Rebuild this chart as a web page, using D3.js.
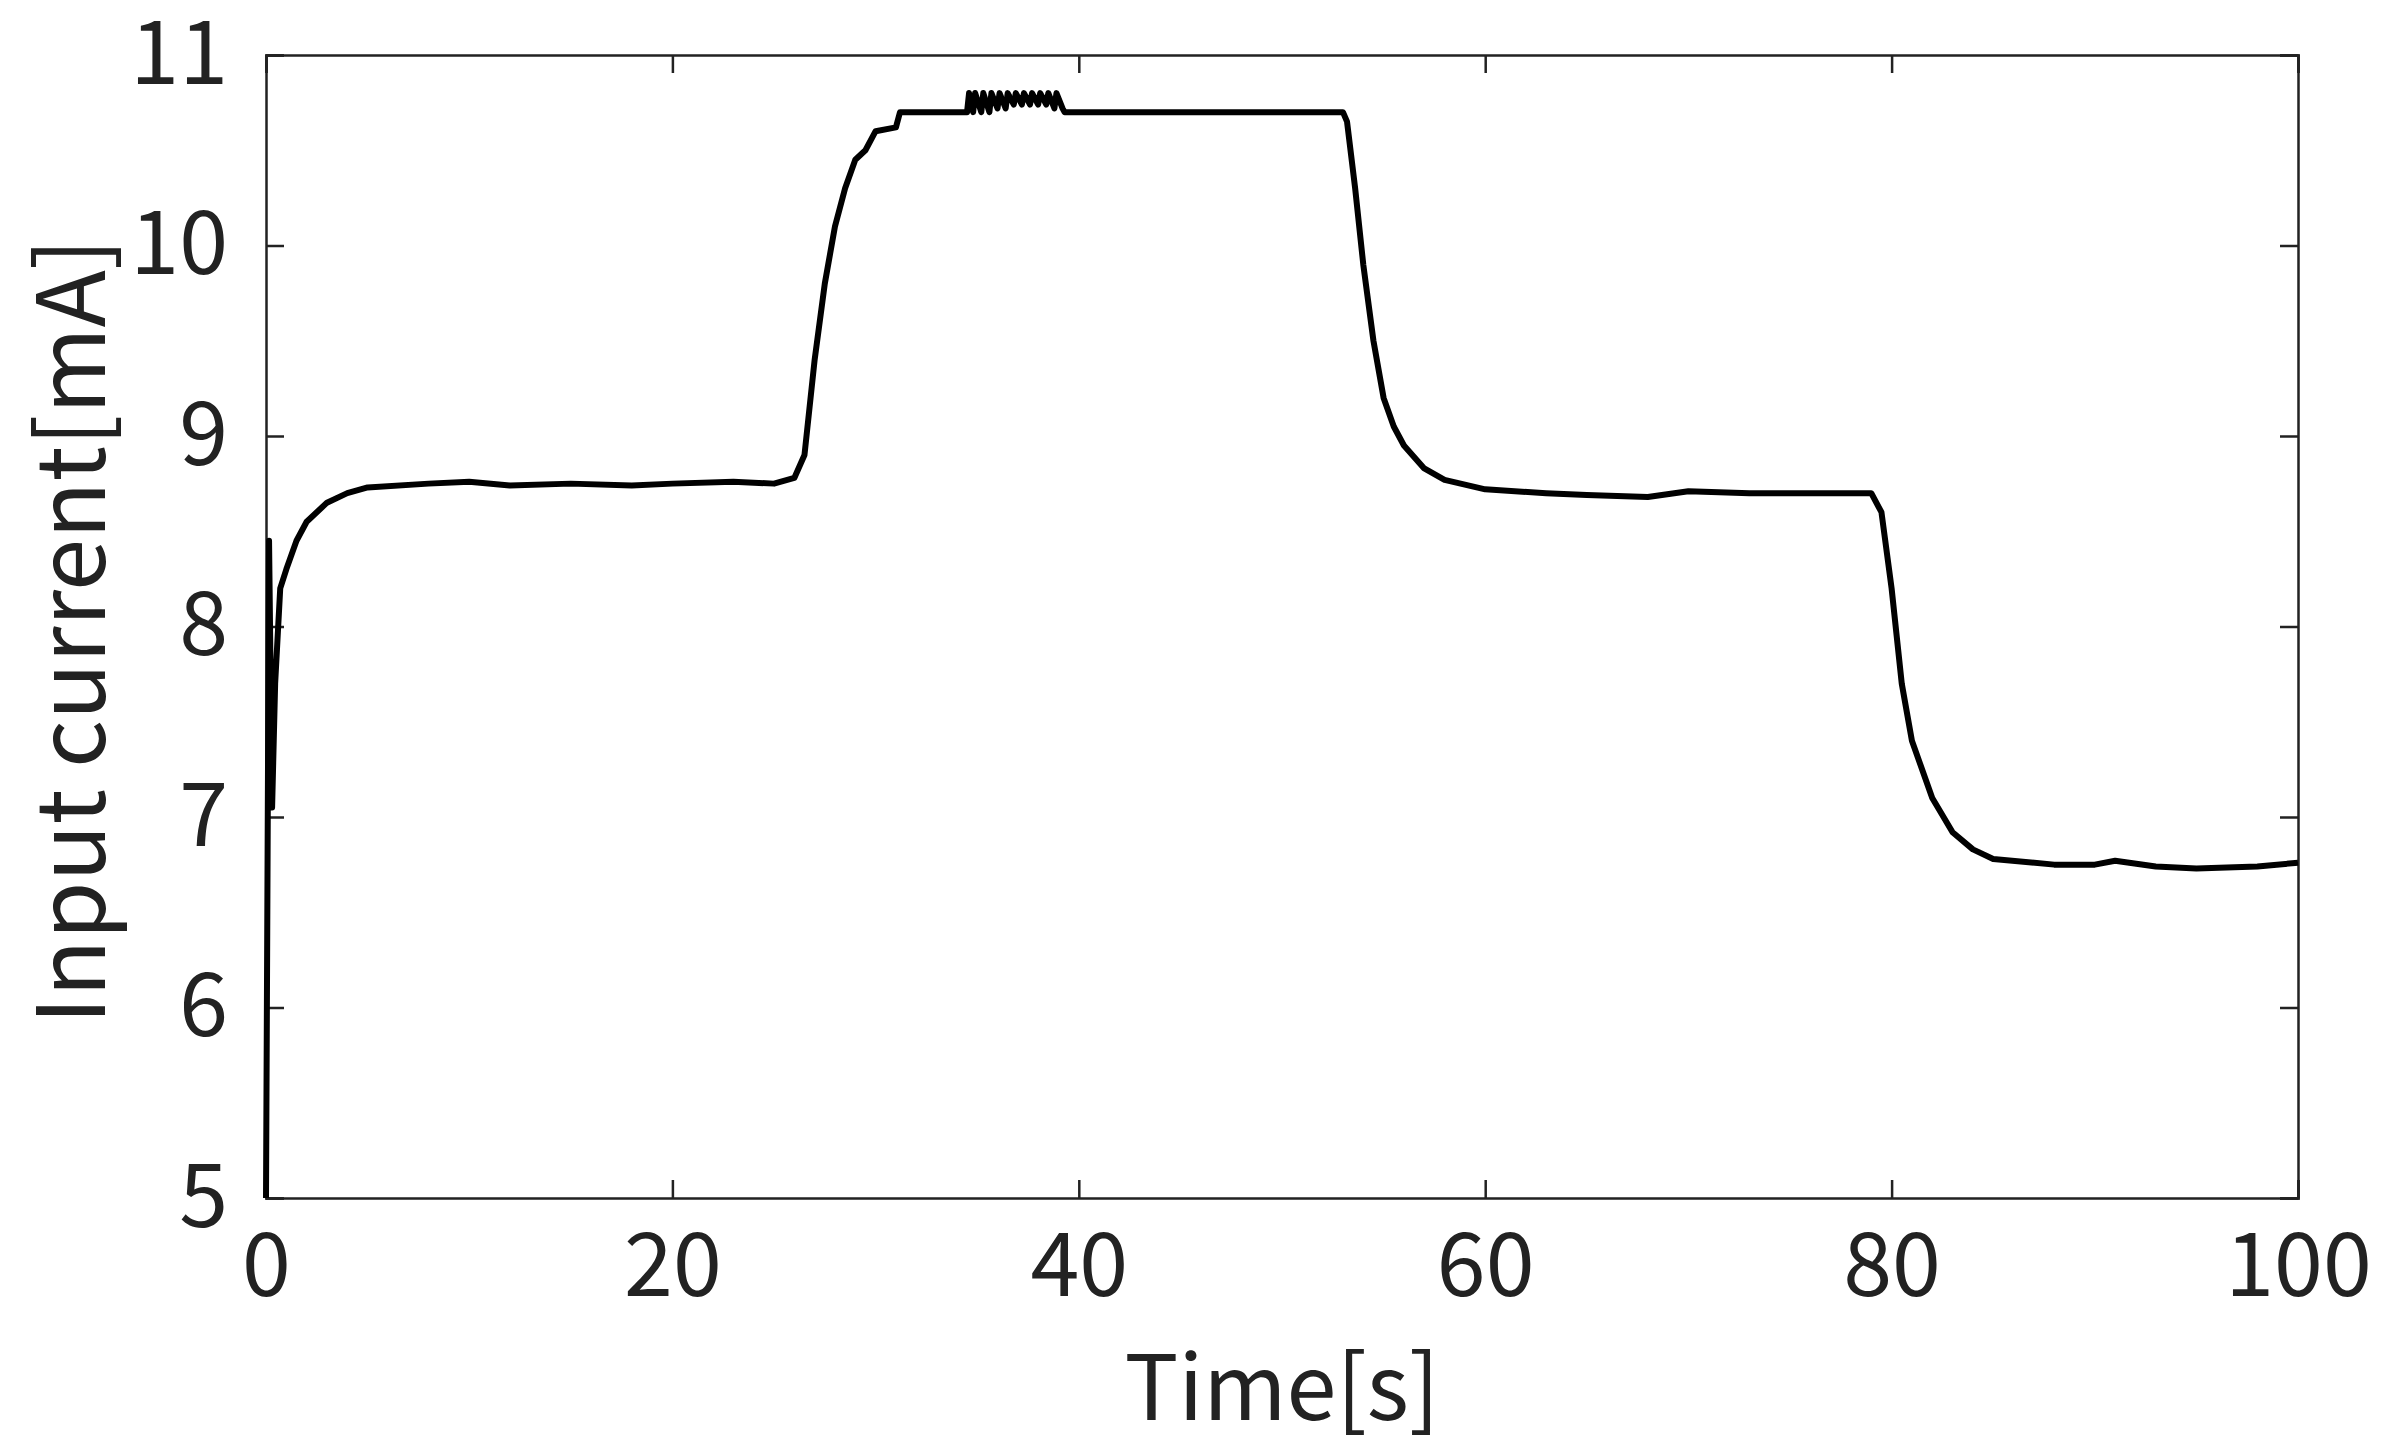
<!DOCTYPE html>
<html>
<head>
<meta charset="utf-8">
<script src="https://cdn.jsdelivr.net/npm/d3@7"></script>
<style>body{margin:0;background:#fff;}</style>
</head>
<body>
<script>
var times = [0, 0.15, 0.3, 0.45, 0.7, 1, 1.5, 2, 3, 4, 5, 8, 10, 12, 15, 18, 20, 23, 25, 26, 26.5, 27, 27.5, 28, 28.5, 29, 29.5, 30, 31, 31.2,
  34.5, 34.6, 34.8, 34.9, 35.2, 35.3, 35.6, 35.7, 36.0, 36.1, 36.4, 36.5, 36.8, 36.9, 37.2, 37.3, 37.6, 37.7, 38.0, 38.1, 38.4, 38.5, 38.8, 38.9, 39.2, 39.3,
  45, 53, 53.2, 53.6, 54, 54.5, 55, 55.5, 56, 57, 58, 60, 63, 65, 68, 70, 73, 75, 79, 79.5, 80, 80.5, 81, 82, 83, 84, 85, 88, 90, 91, 93, 95, 98, 100];
var current = [5.0, 8.45, 7.05, 7.7, 8.2, 8.3, 8.45, 8.55, 8.65, 8.7, 8.73, 8.75, 8.76, 8.74, 8.75, 8.74, 8.75, 8.76, 8.75, 8.78, 8.9, 9.4, 9.8, 10.1, 10.3, 10.45, 10.5, 10.6, 10.62, 10.7,
  10.7, 10.8, 10.7, 10.8, 10.7, 10.8, 10.7, 10.8, 10.72, 10.8, 10.72, 10.8, 10.74, 10.8, 10.74, 10.8, 10.74, 10.8, 10.74, 10.8, 10.74, 10.8, 10.72, 10.8, 10.72, 10.7,
  10.7, 10.7, 10.65, 10.3, 9.9, 9.5, 9.2, 9.05, 8.95, 8.83, 8.77, 8.72, 8.7, 8.69, 8.68, 8.71, 8.7, 8.7, 8.7, 8.6, 8.2, 7.7, 7.4, 7.1, 6.92, 6.83, 6.78, 6.75, 6.75, 6.77, 6.74, 6.73, 6.74, 6.76];
var xTicks = [0, 20, 40, 60, 80, 100];
var yTicks = [5, 6, 7, 8, 9, 10, 11];

var W = 2386, H = 1451;
var m = {left: 266, right: 2386 - 2298, top: 55, bottom: 1451 - 1198};
var font = "'Noto Sans CJK JP', 'Noto Sans', sans-serif";

var svg = d3.select("body").append("svg").attr("width", W).attr("height", H);

var x = d3.scaleLinear().domain([0, 100]).range([m.left, W - m.right]);
var y = d3.scaleLinear().domain([5, 11]).range([H - m.bottom, m.top]);

var tk = 18;
svg.append("g").attr("transform", "translate(0," + y(5) + ")")
   .call(d3.axisBottom(x).tickValues(xTicks).tickSize(-tk).tickPadding(tk + 18).tickFormat(d3.format("d")))
svg.append("g").attr("transform", "translate(0," + y(11) + ")")
   .call(d3.axisTop(x).tickValues(xTicks).tickSize(-tk).tickFormat(""));
svg.append("g").attr("transform", "translate(" + x(0) + ",0)")
   .call(d3.axisLeft(y).tickValues(yTicks).tickSize(-tk).tickPadding(tk + 20).tickFormat(d3.format("d")));
svg.append("g").attr("transform", "translate(" + x(100) + ",0)")
   .call(d3.axisRight(y).tickValues(yTicks).tickSize(-tk).tickFormat(""));

svg.selectAll(".domain").style("stroke", "#222").style("stroke-width", 2.5);
svg.selectAll(".tick line").style("stroke", "#222").style("stroke-width", 2.5);
svg.selectAll(".tick text").style("font-family", font).style("font-size", "88px").style("fill", "#222");

var pts = times.map(function(t, i) { return [t, current[i]]; });
svg.append("path")
   .datum(pts)
   .attr("d", d3.line().x(function(d) { return x(d[0]); }).y(function(d) { return y(d[1]); }))
   .style("fill", "none")
   .style("stroke", "#000")
   .style("stroke-width", 6)
   .style("stroke-linejoin", "round");

svg.append("text")
   .attr("x", (x(0) + x(100)) / 2).attr("y", 1420)
   .attr("text-anchor", "middle")
   .style("font-family", font).style("font-size", "90px").style("fill", "#222")
   .text("Time[s]");
svg.append("text")
   .attr("transform", "translate(105," + ((y(5) + y(11)) / 2 + 5) + ") rotate(-90)")
   .attr("text-anchor", "middle")
   .style("font-family", font).style("font-size", "94px").style("fill", "#222")
   .text("Input current[mA]");
</script>
</body>
</html>
